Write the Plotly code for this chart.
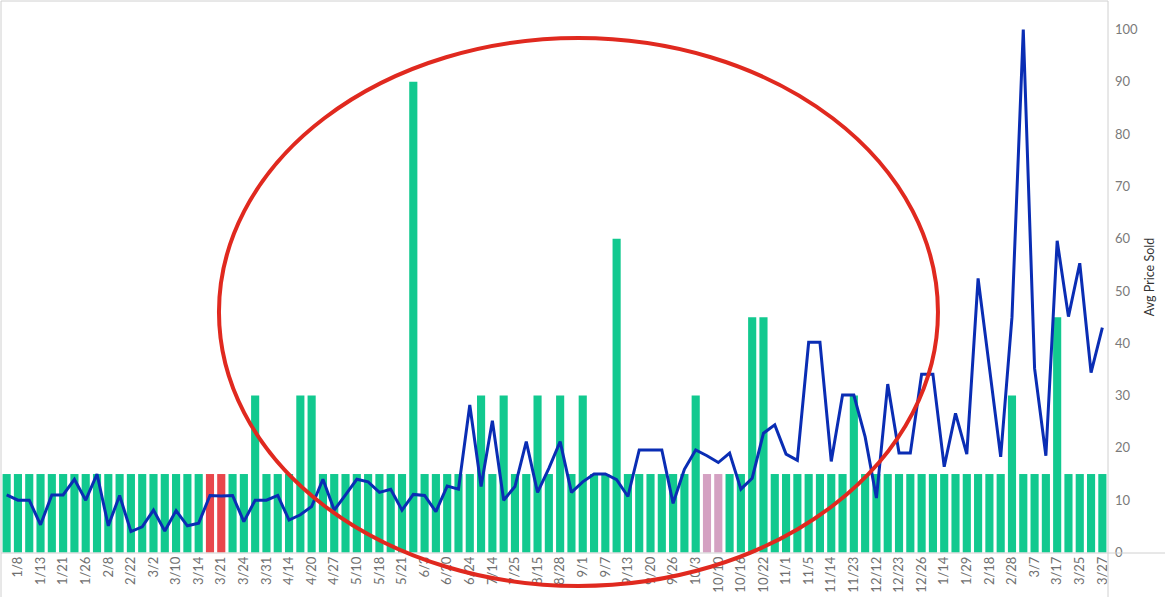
import plotly.graph_objects as go

# ---------------- data ----------------
dates = [
    "2018-01-05", "2018-01-08", "2018-01-10", "2018-01-13", "2018-01-17", "2018-01-21", "2018-01-24", "2018-01-26",
    "2018-02-01", "2018-02-08", "2018-02-15", "2018-02-22", "2018-02-26", "2018-03-02", "2018-03-06", "2018-03-10",
    "2018-03-12", "2018-03-14", "2018-03-17", "2018-03-21", "2018-03-22", "2018-03-24", "2018-03-28", "2018-03-31",
    "2018-04-07", "2018-04-14", "2018-04-17", "2018-04-20", "2018-04-24", "2018-04-27", "2018-05-04", "2018-05-10",
    "2018-05-14", "2018-05-18", "2018-05-19", "2018-05-21", "2018-05-28", "2018-06-03", "2018-06-12", "2018-06-20",
    "2018-06-22", "2018-06-24", "2018-07-01", "2018-07-14", "2018-07-20", "2018-07-25", "2018-08-05", "2018-08-15",
    "2018-08-22", "2018-08-28", "2018-08-30", "2018-09-01", "2018-09-04", "2018-09-07", "2018-09-10", "2018-09-13",
    "2018-09-16", "2018-09-20", "2018-09-23", "2018-09-26", "2018-09-30", "2018-10-03", "2018-10-06", "2018-10-10",
    "2018-10-13", "2018-10-16", "2018-10-19", "2018-10-22", "2018-10-26", "2018-11-01", "2018-11-03", "2018-11-05",
    "2018-11-10", "2018-11-14", "2018-11-19", "2018-11-23", "2018-12-02", "2018-12-12", "2018-12-17", "2018-12-23",
    "2018-12-24", "2018-12-26", "2019-01-05", "2019-01-14", "2019-01-20", "2019-01-29", "2019-02-09", "2019-02-18",
    "2019-02-24", "2019-02-28", "2019-03-03", "2019-03-07", "2019-03-12", "2019-03-17", "2019-03-20", "2019-03-25",
    "2019-03-26", "2019-03-27",
]

bar_values = [
    15, 15, 15, 15, 15, 15, 15, 15, 15, 15,
    15, 15, 15, 15, 15, 15, 15, 15, 15, 15,
    15, 15, 30, 15, 15, 15, 30, 30, 15, 15,
    15, 15, 15, 15, 15, 15, 90, 15, 15, 15,
    15, 15, 30, 15, 30, 15, 15, 30, 15, 30,
    15, 30, 15, 15, 60, 15, 15, 15, 15, 15,
    15, 30, 15, 15, 15, 15, 45, 45, 15, 15,
    15, 15, 15, 15, 15, 30, 15, 15, 15, 15,
    15, 15, 15, 15, 15, 15, 15, 15, 15, 30,
    15, 15, 15, 45, 15, 15, 15, 15,
]

# bar status: "ok" (green), "flag" (red), "hold" (pink)
bar_status = ["ok"] * 18 + ["flag", "flag"] + ["ok"] * 42 + ["hold", "hold"] + ["ok"] * 34

avg_price = [
    11.0, 10.0, 10.0, 5.3, 11.0, 11.0, 14.0, 10.0, 15.0, 5.1,
    10.9, 4.0, 4.9, 8.1, 4.1, 8.0, 5.1, 5.6, 10.9, 10.8,
    10.9, 5.9, 10.0, 10.0, 10.9, 6.2, 7.2, 8.8, 14.0, 8.1,
    11.0, 14.0, 13.5, 11.5, 12.1, 8.1, 11.1, 10.9, 7.8, 12.7,
    12.1, 28.2, 12.6, 25.2, 10.0, 12.6, 21.2, 11.5, 16.1, 21.2,
    11.5, 13.5, 15.0, 15.0, 13.9, 10.7, 19.6, 19.6, 19.6, 9.4,
    15.9, 19.6, 18.5, 17.2, 19.0, 12.1, 14.2, 22.8, 24.4, 18.8,
    17.6, 40.2, 40.2, 17.4, 30.1, 30.1, 22.1, 10.4, 32.2, 19.0,
    19.0, 34.1, 34.1, 16.4, 26.6, 18.8, 52.4, 35.4, 18.3, 45.0,
    100.0, 35.2, 18.5, 59.6, 45.1, 55.3, 34.4, 43.0,
]

price_ticks = [0, 10, 20, 30, 40, 50, 60, 70, 80, 90, 100]
grid_ticks = [15, 30, 45, 60, 75, 90, 105]

# ---------------- styles ----------------
status_colors = {"ok": "#12C98F", "flag": "#E8474C", "hold": "#D4A1C2"}
LINE_BLUE = "#0A2DB4"
AXIS_GRAY = "#D0D0D0"
FONT = "Lato, 'Open Sans', sans-serif"

tick_vals = dates[1::2]
tick_text = [f"{int(d[5:7])}/{int(d[8:10])}" for d in tick_vals]

fig = go.Figure()
fig.add_trace(go.Bar(
    x=dates, y=bar_values,
    marker=dict(color=[status_colors[s] for s in bar_status], line=dict(width=0)),
    yaxis="y", showlegend=False, hoverinfo="x+y",
))
fig.add_trace(go.Scatter(
    x=dates, y=avg_price, mode="lines",
    line=dict(color=LINE_BLUE, width=3),
    yaxis="y", showlegend=False,
))

yr = [-0.1, 105.45]
fig.update_layout(
    width=1165, height=597,
    margin=dict(l=1, r=57, t=1, b=44, autoexpand=False),
    plot_bgcolor="white", paper_bgcolor="white",
    bargap=0.28,
    font=dict(family=FONT, color="#666666", size=11),
    xaxis=dict(
        type="category", categoryorder="array", categoryarray=dates,
        tickmode="array", tickvals=tick_vals, ticktext=tick_text,
        tickangle=-90, tickfont=dict(size=13, color="#707070"),
        showgrid=False, zeroline=False, showline=False, ticks="",
        automargin=False, range=[-0.5, len(dates) - 0.5],
    ),
    yaxis=dict(
        side="right", range=yr, tickmode="array", tickvals=price_ticks,
        tickfont=dict(size=13, color="#7a7a7a"),
        showgrid=False, zeroline=False, showline=False, ticks="",
        ticklabelstandoff=6,
        title=dict(text="Avg Price Sold", font=dict(size=12.5, color="#333333"), standoff=8),
        automargin=False,
    ),
    yaxis2=dict(
        overlaying="y", side="left", range=yr, tickmode="array", tickvals=grid_ticks,
        showticklabels=False, showgrid=True, gridcolor="#EBEBEB", gridwidth=1,
        zeroline=False, showline=False, ticks="",
    ),
)

# frame lines (Tableau pane borders)
frame = [
    dict(x0=0, x1=1.0515, y0=0, y1=0),          # bottom axis line, extends to right edge
    dict(x0=1, x1=1, y0=-0.08, y1=1),            # right axis line
    dict(x0=0, x1=0, y0=-0.08, y1=1),            # left border
    dict(x0=0, x1=1, y0=1, y1=1),                # top border
]
for f in frame:
    fig.add_shape(type="line", xref="paper", yref="paper", line=dict(color=AXIS_GRAY, width=1), layer="above", **f)

# red highlight ellipse
fig.add_shape(
    type="circle", xref="paper", yref="paper",
    x0=0.1969, x1=0.8464, y0=-0.0598, y1=0.933,
    line=dict(color="#E0291F", width=4), fillcolor="rgba(0,0,0,0)", layer="above",
)

fig.write_html(
    "out.html",
    config={"displayModeBar": False},
    post_script="document.body.style.margin='0px';",
)
